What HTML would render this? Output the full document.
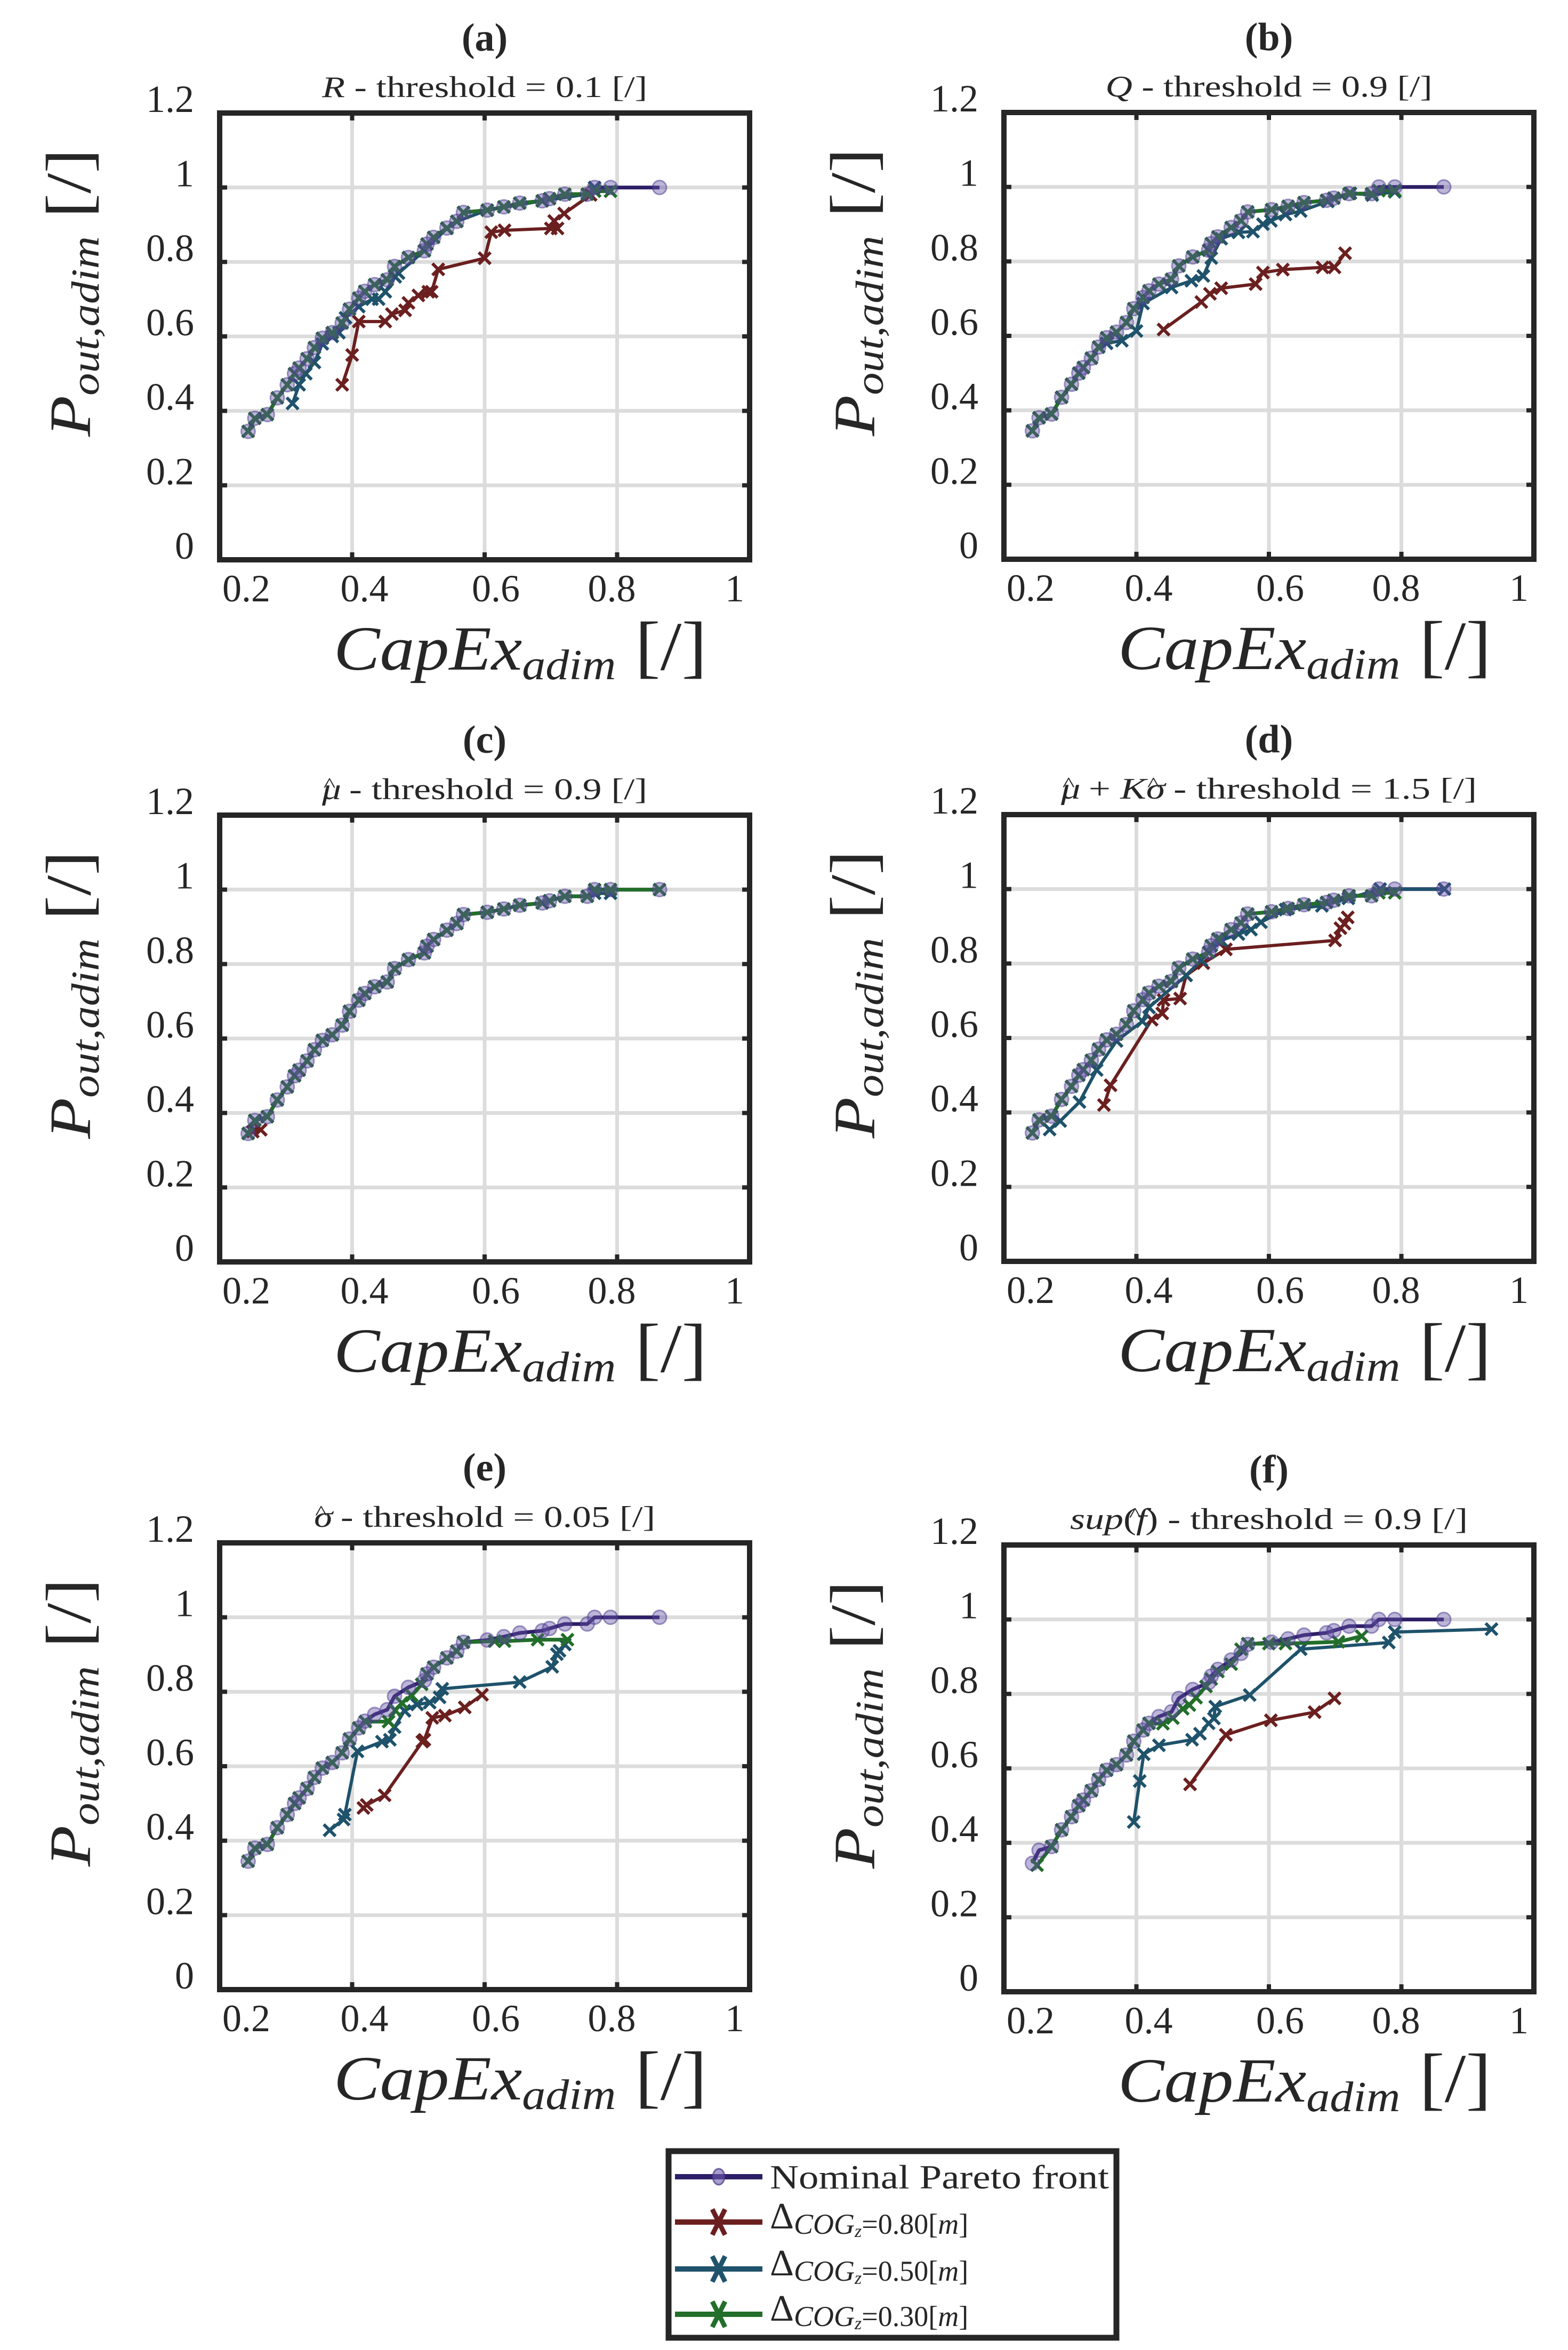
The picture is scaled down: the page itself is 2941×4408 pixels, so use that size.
<!DOCTYPE html>
<html><head><meta charset="utf-8">
<style>
html,body{margin:0;padding:0;background:#fff;}
svg{display:block;}
text{font-family:"Liberation Serif",serif;fill:#262626;}
</style></head>
<body>
<svg id="fig" width="2941" height="4408" viewBox="0 0 2941 4408" xmlns="http://www.w3.org/2000/svg">
<rect x="0" y="0" width="2941" height="4408" fill="#fff"/>
</svg>
<script>
// ---------- data ----------
const xTicks = [0.2, 0.4, 0.6, 0.8, 1];
const xTickLabels = ["0.2", "0.4", "0.6", "0.8", "1"];
const yTicks = [0, 0.2, 0.4, 0.6, 0.8, 1, 1.2];
const yTickLabels = ["0", "0.2", "0.4", "0.6", "0.8", "1", "1.2"];
const panelLetters = ["(a)", "(b)", "(c)", "(d)", "(e)", "(f)"];

const nominalX = [0.243,0.253,0.272,0.287,0.302,0.313,0.32,0.332,0.343,0.355,0.37,0.385,0.396,0.41,0.419,0.434,0.453,0.464,0.485,0.509,0.513,0.523,0.543,0.558,0.568,0.604,0.629,0.653,0.687,0.698,0.721,0.755,0.766,0.79,0.864];
const nominalY = [0.345,0.38,0.39,0.435,0.47,0.50,0.515,0.54,0.57,0.595,0.61,0.636,0.673,0.703,0.721,0.739,0.752,0.788,0.812,0.83,0.848,0.866,0.891,0.909,0.933,0.939,0.948,0.958,0.964,0.97,0.982,0.982,1.0,1.0,1.0];

const greenMainX = [0.243,0.253,0.272,0.287,0.302,0.313,0.32,0.332,0.343,0.355,0.37,0.385,0.396,0.41,0.419,0.434,0.453,0.464,0.485,0.509,0.513,0.523,0.543,0.558,0.568,0.604,0.629,0.653,0.687,0.698,0.721,0.755,0.766,0.79];
const greenMainY = [0.345,0.38,0.39,0.435,0.47,0.50,0.515,0.54,0.57,0.595,0.61,0.636,0.673,0.703,0.721,0.739,0.752,0.788,0.812,0.83,0.848,0.866,0.891,0.909,0.933,0.939,0.948,0.958,0.964,0.97,0.982,0.982,0.99,0.99];

// (a) R
const redAX = [0.385,0.40,0.41,0.45,0.46,0.48,0.485,0.50,0.515,0.52,0.53,0.60,0.61,0.63,0.70,0.71,0.705,0.72,0.76];
const redAY = [0.47,0.55,0.64,0.64,0.66,0.67,0.69,0.71,0.72,0.72,0.78,0.81,0.88,0.885,0.89,0.89,0.91,0.93,0.98];
const blueAX = [0.31,0.32,0.33,0.343,0.355,0.37,0.38,0.39,0.41,0.43,0.44,0.45,0.465,0.47,0.509,0.543,0.558,0.604,0.687,0.755,0.766];
const blueAY = [0.42,0.47,0.50,0.53,0.58,0.60,0.61,0.65,0.68,0.70,0.70,0.72,0.76,0.77,0.83,0.89,0.909,0.939,0.964,0.982,1.0];

// (b) Q
const redBX = [0.441,0.498,0.511,0.528,0.58,0.591,0.621,0.681,0.699,0.715];
const redBY = [0.617,0.691,0.713,0.728,0.739,0.77,0.778,0.784,0.784,0.822];
const blueBX = [0.243,0.253,0.272,0.287,0.302,0.313,0.32,0.332,0.343,0.355,0.378,0.40,0.41,0.453,0.483,0.501,0.513,0.528,0.554,0.576,0.591,0.603,0.625,0.648,0.689,0.723,0.756,0.79];
const blueBY = [0.345,0.38,0.39,0.435,0.47,0.50,0.515,0.54,0.57,0.58,0.587,0.613,0.687,0.73,0.748,0.761,0.809,0.861,0.878,0.88,0.90,0.909,0.926,0.935,0.961,0.983,0.978,0.987];

// (c) mu
const redCX = [0.25,0.262];
const redCY = [0.35,0.355];
const greenCX = [0.243,0.253,0.272,0.287,0.302,0.313,0.32,0.332,0.343,0.355,0.37,0.385,0.396,0.41,0.419,0.434,0.453,0.464,0.485,0.509,0.513,0.523,0.543,0.558,0.568,0.604,0.629,0.653,0.687,0.698,0.721,0.755,0.766,0.79,0.864];
const greenCY = [0.345,0.38,0.39,0.435,0.47,0.50,0.515,0.54,0.57,0.595,0.61,0.636,0.673,0.703,0.721,0.739,0.752,0.788,0.812,0.83,0.848,0.866,0.891,0.909,0.933,0.939,0.948,0.958,0.964,0.97,0.982,0.982,1.0,1.0,1.0];

// (d) mu + K sigma
const redDX = [0.351,0.361,0.423,0.439,0.441,0.466,0.475,0.501,0.535,0.70,0.708,0.714,0.719];
const redDY = [0.42,0.473,0.649,0.666,0.702,0.706,0.768,0.801,0.838,0.862,0.895,0.907,0.924];
const blueDX = [0.269,0.285,0.314,0.34,0.37,0.409,0.419,0.475,0.498,0.528,0.554,0.573,0.588,0.625,0.68,0.72,0.768,0.865];
const blueDY = [0.354,0.377,0.428,0.514,0.592,0.645,0.682,0.768,0.809,0.862,0.879,0.891,0.911,0.945,0.955,0.975,1.0,1.0];

// (e) sigma
const redEX = [0.417,0.422,0.449,0.506,0.509,0.521,0.54,0.57,0.596];
const redEY = [0.488,0.496,0.522,0.666,0.671,0.73,0.736,0.758,0.792];
const blueEX = [0.366,0.387,0.389,0.408,0.445,0.457,0.464,0.479,0.498,0.517,0.532,0.536,0.653,0.702,0.709,0.713,0.721];
const blueEY = [0.428,0.457,0.47,0.64,0.666,0.671,0.705,0.749,0.766,0.771,0.785,0.808,0.826,0.867,0.901,0.91,0.927];
const greenEX = [0.243,0.253,0.272,0.287,0.302,0.313,0.32,0.332,0.343,0.355,0.37,0.385,0.396,0.41,0.42,0.455,0.465,0.475,0.49,0.505,0.513,0.523,0.543,0.558,0.568,0.615,0.63,0.68,0.725];
const greenEY = [0.345,0.38,0.39,0.435,0.47,0.50,0.515,0.54,0.57,0.595,0.61,0.636,0.673,0.703,0.72,0.72,0.75,0.77,0.79,0.82,0.848,0.866,0.891,0.909,0.933,0.936,0.936,0.94,0.94];

// (f) sup(f)
const redFX = [0.481,0.535,0.603,0.669,0.699];
const redFY = [0.557,0.69,0.729,0.751,0.788];
const blueFX = [0.396,0.405,0.411,0.434,0.484,0.496,0.509,0.517,0.519,0.571,0.648,0.781,0.79,0.936];
const blueFY = [0.456,0.566,0.638,0.662,0.677,0.693,0.721,0.734,0.766,0.797,0.92,0.938,0.966,0.974];
const greenFX = [0.25,0.272,0.287,0.302,0.313,0.32,0.332,0.343,0.355,0.37,0.385,0.396,0.41,0.419,0.44,0.455,0.47,0.48,0.49,0.505,0.513,0.523,0.543,0.558,0.568,0.60,0.625,0.705,0.74];
const greenFY = [0.34,0.39,0.435,0.47,0.50,0.515,0.54,0.57,0.595,0.61,0.636,0.673,0.703,0.721,0.72,0.735,0.76,0.77,0.79,0.82,0.84,0.86,0.88,0.92,0.935,0.935,0.935,0.94,0.955];

// ---------- layout ----------
const NS = "http://www.w3.org/2000/svg";
const svg = document.getElementById("fig");
const COL = {nom:"#2d1f66", red:"#6b1f1f", blue:"#1f526b", green:"#226e2a"};
const W = 994, H = 838;
const panels = [
  {L:412, T:212, sub:[["R",1]," - threshold = 0.1 [/]"], subLen:610, red:[redAX,redAY], blue:[blueAX,blueAY], green:[greenMainX,greenMainY]},
  {L:1883, T:211, sub:[["Q",1]," - threshold = 0.9 [/]"], subLen:613, red:[redBX,redBY], blue:[blueBX,blueBY], green:[greenMainX,greenMainY]},
  {L:412, T:1529, sub:[["μ",1],["^",2]," - threshold = 0.9 [/]"], subLen:610, red:[redCX,redCY], blue:[greenMainX,greenMainY], green:[greenCX,greenCY]},
  {L:1883, T:1528, sub:[["μ",1],["^",2]," + ",["K",1],["σ",1],["^",2]," - threshold = 1.5 [/]"], subLen:780, red:[redDX,redDY], blue:[blueDX,blueDY], green:[greenMainX,greenMainY]},
  {L:412, T:2894, sub:[["σ",1],["^",2]," - threshold = 0.05 [/]"], subLen:640, red:[redEX,redEY], blue:[blueEX,blueEY], green:[greenEX,greenEY]},
  {L:1883, T:2898, sub:[["sup",1],"(",["f",1],["^",2],") - threshold = 0.9 [/]"], subLen:746, red:[redFX,redFY], blue:[blueFX,blueFY], green:[greenFX,greenFY]}
];
const xLabelOffsets = [50, 23, 21, -10, -28];

function el(tag, attrs, parent) {
  const e = document.createElementNS(NS, tag);
  for (const k in attrs) e.setAttribute(k, attrs[k]);
  (parent || svg).appendChild(e);
  return e;
}
function drawLine(g, xs, ys, X, Y, color, w) {
  const pts = X.map((v, i) => xs(v).toFixed(1) + "," + ys(Y[i]).toFixed(1)).join(" ");
  return el("polyline", {points: pts, fill: "none", stroke: color, "stroke-width": w, "stroke-linejoin": "round"}, g);
}
function drawCrosses(g, xs, ys, X, Y, color) {
  X.forEach((v, i) => {
    const cx = xs(v), cy = ys(Y[i]), s = 11;
    const p = el("path", {d: `M${cx-s},${cy-s}L${cx+s},${cy+s}M${cx-s},${cy+s}L${cx+s},${cy-s}`, stroke: color, "stroke-width": 6, fill: "none"}, g);
    
    
  });
}

panels.forEach((p, pi) => {
  const g = el("g", {});
  
  
  const xs = v => p.L + (v - 0.2) / 0.8 * W;
  const ys = v => p.T + H - v / 1.2 * H;
  const B = p.T + H;
  xTicks.forEach(v => {
    const l = el("line", {x1: xs(v), x2: xs(v), y1: p.T, y2: B, stroke: "#dcdcdc", "stroke-width": 7}, g);
    
    
  });
  yTicks.forEach(v => {
    const l = el("line", {x1: p.L, x2: p.L + W, y1: ys(v), y2: ys(v), stroke: "#dcdcdc", "stroke-width": 7}, g);
    
    
  });
  xTicks.forEach(v => {
    el("line", {x1: xs(v), x2: xs(v), y1: B, y2: B - 14, stroke: "#262626", "stroke-width": 8}, g);
    el("line", {x1: xs(v), x2: xs(v), y1: p.T, y2: p.T + 14, stroke: "#262626", "stroke-width": 8}, g);
  });
  yTicks.forEach(v => {
    el("line", {x1: p.L, x2: p.L + 14, y1: ys(v), y2: ys(v), stroke: "#262626", "stroke-width": 8}, g);
    el("line", {x1: p.L + W, x2: p.L + W - 14, y1: ys(v), y2: ys(v), stroke: "#262626", "stroke-width": 8}, g);
  });
  const nl = drawLine(g, xs, ys, nominalX, nominalY, COL.nom, 7);
  
  
  const rl = drawLine(g, xs, ys, p.red[0], p.red[1], COL.red, 6);
  
  
  drawCrosses(g, xs, ys, p.red[0], p.red[1], COL.red);
  const bl = drawLine(g, xs, ys, p.blue[0], p.blue[1], COL.blue, 6);
  
  
  drawCrosses(g, xs, ys, p.blue[0], p.blue[1], COL.blue);
  const gl = drawLine(g, xs, ys, p.green[0], p.green[1], COL.green, 7);
  
  
  drawCrosses(g, xs, ys, p.green[0], p.green[1], COL.green);
  nominalX.forEach((v, i) => {
    const c = el("circle", {cx: xs(v), cy: ys(nominalY[i]), r: 13, fill: "rgba(100,80,165,0.42)", stroke: "rgba(70,55,140,0.5)", "stroke-width": 3}, g);
    
    
  });
  const bx = el("rect", {x: p.L, y: p.T, width: W, height: H, fill: "none", stroke: "#262626", "stroke-width": 10}, g);
  
  
  xTicks.forEach((v, i) => {
    const t = el("text", {x: xs(v) + xLabelOffsets[i], y: B + 78, "text-anchor": "middle", "font-size": 72}, g);
    t.textContent = xTickLabels[i];
    
    
  });
  yTicks.forEach((v, i) => {
    const t = el("text", {x: p.L - 48, y: ys(v) - 2, "text-anchor": "end", "font-size": 72}, g);
    t.textContent = yTickLabels[i];
    
    
  });
  const tl = el("text", {x: p.L + W / 2, y: p.T - 117, "text-anchor": "middle", "font-size": 74, "font-weight": "bold", fill: "#000"}, g);
  tl.textContent = panelLetters[pi];
  
  
  const st = el("text", {x: p.L + W / 2, y: p.T - 30, "text-anchor": "middle", "font-size": 56, fill: "#000", textLength: p.subLen, lengthAdjust: "spacingAndGlyphs"}, g);
  
  
  let hatUp = false;
  p.sub.forEach(part => {
    const ts = el("tspan", {}, st);
    if (Array.isArray(part) && part[1] === 2) {
      ts.setAttribute("dx", -26); ts.setAttribute("dy", -14); ts.setAttribute("font-size", 38);
      ts.textContent = part[0]; hatUp = true; return;
    }
    if (hatUp) { ts.setAttribute("dy", 14); ts.setAttribute("dx", 6); hatUp = false; }
    if (Array.isArray(part)) { ts.setAttribute("font-style", "italic"); ts.textContent = part[0]; }
    else ts.textContent = part;
  });
  const xl = el("text", {x: p.L + 564, y: B + 206, "text-anchor": "middle", "font-size": 118, textLength: 700, lengthAdjust: "spacingAndGlyphs"}, g);
  
  
  let a = el("tspan", {"font-style": "italic"}, xl); a.textContent = "CapEx";
  a = el("tspan", {"font-style": "italic", "font-size": 80, dy: 18}, xl); a.textContent = "adim";
  a = el("tspan", {dy: -18, "font-size": 130}, xl); a.textContent = " [/]";
  const yl = el("text", {x: 0, y: 0, "text-anchor": "middle", "font-size": 110, textLength: 540, lengthAdjust: "spacingAndGlyphs",
    transform: `translate(${p.L - 243},${p.T + 337}) rotate(-90)`}, g);
  
  
  a = el("tspan", {"font-style": "italic"}, yl); a.textContent = "P";
  a = el("tspan", {"font-style": "italic", "font-size": 74, dy: 16}, yl); a.textContent = "out,adim";
  a = el("tspan", {dy: -16, "font-size": 120}, yl); a.textContent = "  [/]";
});

// ---------- legend ----------
const lg = el("g", {});


const lb = el("rect", {x: 1254, y: 4035, width: 840, height: 350, fill: "#fff", stroke: "#262626", "stroke-width": 11}, lg);


const legendCols = [COL.nom, COL.red, COL.blue, COL.green];
const legendYs = [4083, 4168, 4256, 4341];
const legendVals = ["0.80", "0.50", "0.30"];
legendCols.forEach((c, i) => {
  const y = legendYs[i];
  const e = el("g", {}, lg);
  
  
  el("line", {x1: 1266, x2: 1430, y1: y, y2: y, stroke: c, "stroke-width": 10}, e);
  if (i === 0) {
    el("ellipse", {cx: 1348, cy: y, rx: 11, ry: 15, fill: "rgba(110,90,170,0.6)", stroke: "rgba(70,55,140,0.7)", "stroke-width": 3}, e);
    const t = el("text", {x: 1444, y: y + 22, "font-size": 64, fill: "#000", textLength: 636, lengthAdjust: "spacingAndGlyphs"}, e);
    t.textContent = "Nominal Pareto front";
  } else {
    const s = 12;
    el("path", {d: `M${1348-s},${y-s*2}L${1348+s},${y+s*2}M${1348-s},${y+s*2}L${1348+s},${y-s*2}`, stroke: c, "stroke-width": 9, fill: "none"}, e);
    const t = el("text", {x: 1444, y: y + 12, "font-size": 70, fill: "#000"}, e);
    let ts = el("tspan", {}, t); ts.textContent = "Δ";
    ts = el("tspan", {"font-style": "italic", "font-size": 54, dy: 10}, t); ts.textContent = "COG";
    ts = el("tspan", {"font-style": "italic", "font-size": 34, dy: 6}, t); ts.textContent = "z";
    ts = el("tspan", {"font-size": 54, dy: -6}, t); ts.textContent = "=" + legendVals[i - 1] + "[";
    ts = el("tspan", {"font-size": 54, "font-style": "italic"}, t); ts.textContent = "m";
    ts = el("tspan", {"font-size": 54}, t); ts.textContent = "]";
  }
});
</script>
</body></html>
